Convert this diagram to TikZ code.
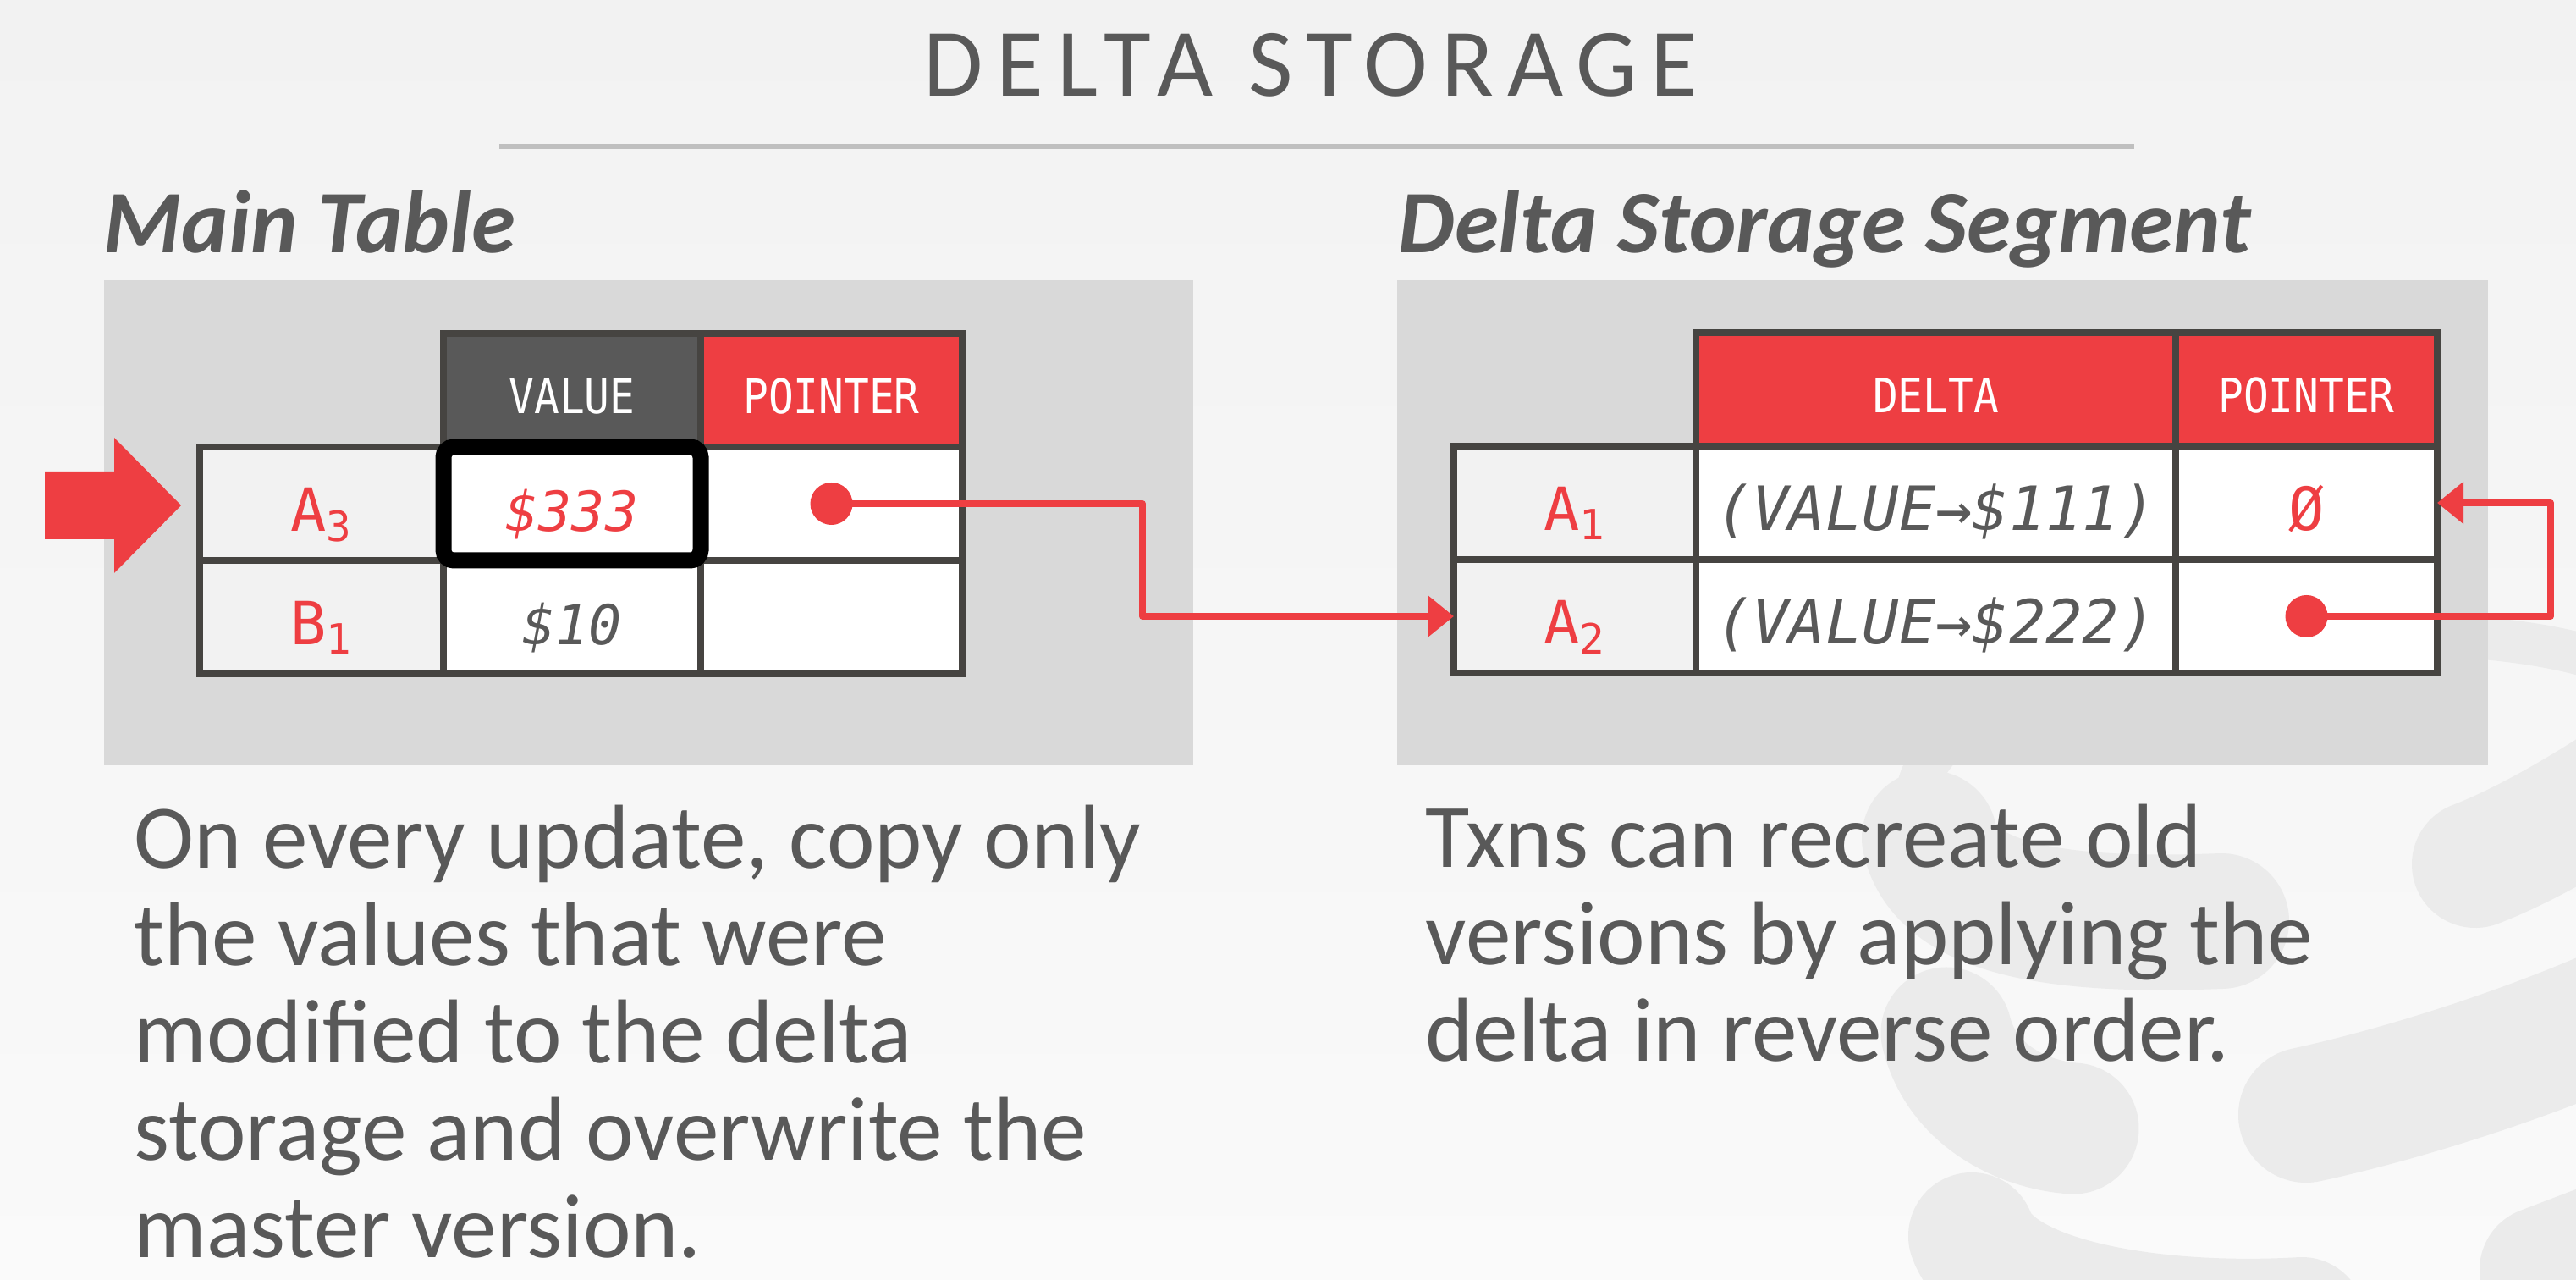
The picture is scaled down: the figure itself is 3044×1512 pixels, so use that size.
\documentclass[tikz,border=0pt]{standalone}
\usepackage{fontspec}
\setmainfont{Carlito}
\newfontfamily\cellfont{DejaVu Sans Mono}
\newfontfamily\hdrfont{DejaVu Sans Mono}[FakeStretch=0.88]
\newfontfamily\titlefont{Carlito}[LetterSpace=14]
\usetikzlibrary{arrows.meta,positioning}
\definecolor{slidegray}{HTML}{595959}
\definecolor{dbred}{HTML}{EE3E42}
\definecolor{panelgray}{HTML}{D9D9D9}
\definecolor{tblline}{HTML}{464441}
\definecolor{keyfill}{HTML}{F2F2F2}
\definecolor{rulegray}{HTML}{BFBFBF}
\definecolor{logogray}{HTML}{EBEBEB}
\definecolor{bgtop}{HTML}{F2F2F2}

\begin{document}
\begin{tikzpicture}[x=0.1mm, y=-0.1mm, >={Triangle[length=3.1mm,width=4.8mm]}]
  \tikzstyle{cell}=[draw=tblline, line width=0.8mm, inner sep=0pt, outer sep=0pt,
                    minimum height=1.34cm, text height=0.66cm, text depth=0pt]
  \tikzstyle{keycell}=[cell, fill=keyfill, text=dbred, minimum width=2.87cm,
                       font=\cellfont\fontsize{20}{22}\selectfont]
  \tikzstyle{valcell}=[cell, fill=white, text=slidegray,
                       font=\cellfont\fontsize{18.5}{20}\selectfont\itshape]
  \tikzstyle{hdrcell}=[cell, text=white, text height=0.56cm,
                       font=\hdrfont\fontsize{16}{18}\selectfont]
  \tikzstyle{panel}=[fill=panelgray, inner sep=0pt, minimum height=5.73cm, anchor=north west]
  \tikzstyle{heading}=[text=slidegray, inner sep=0pt, anchor=base west,
                       font=\fontsize{30}{32}\selectfont\bfseries\itshape]
  \tikzstyle{body}=[text=slidegray, inner sep=0pt, align=left, anchor=base west,
                    font=\fontsize{30.5}{32.7}\selectfont]
  \tikzstyle{dot}=[circle, fill=dbred, inner sep=0pt, minimum size=0.5cm]
  \tikzstyle{ptrline}=[draw=dbred, line width=0.8mm, line join=round]
  \tikzstyle{logo}=[draw=logogray, line cap=round]

  % ================= background + logo =================
  \useasboundingbox (0,0) rectangle (3044,1512);
  \shade[top color=bgtop, bottom color=white!98!black] (0,0) rectangle (3044,1512);
  \draw[logo, line width=0.5cm] (2265,960) .. controls (2240,760) and (2900,700) .. (3100,790);
  \draw[logo, line width=1.6cm] (2280,990) .. controls (2300,1080) and (2450,1095) .. (2625,1088);
  \draw[logo, line width=1.55cm] (2300,1220) .. controls (2320,1300) and (2400,1330) .. (2450,1333);
  \draw[logo, line width=1.5cm] (2330,1460) .. controls (2360,1540) and (2550,1570) .. (2720,1560);
  \draw[logo, line width=1.5cm] (2925,1021) .. controls (2980,1000) and (3050,960) .. (3110,920);
  \draw[logo, line width=1.6cm] (2725,1317) .. controls (2850,1290) and (3000,1240) .. (3110,1190);
  \draw[logo, line width=1.5cm] (3005,1500) -- (3110,1460);

  % ================= title =================
  \node[text=slidegray, anchor=base, inner sep=0pt,
        font=\titlefont\fontsize{32.5}{34}\selectfont] (title) at (1549,114) {DELTA STORAGE};
  \draw[rulegray, line width=0.6mm] (590,173) -- (2522,173);

  % ================= panels =================
  \node[panel, minimum width=12.87cm] (lpanel) at (122,330) {};
  \node[panel, minimum width=12.89cm] (rpanel) at (1650,330) {};
  \node[heading] (lhead) at (122,299) {Main Table};
  \node[heading] (rhead) at (1652,299) {Delta Storage Segment};

  % ================= main table =================
  \node[keycell, minimum width=2.88cm] (lkey1) at (380,595) {A\textsubscript{3}};
  \node[valcell, minimum width=3.04cm, right=0pt of lkey1, text=dbred] (lval1) {\$333};
  \node[valcell, minimum width=3.09cm, right=0pt of lval1] (lptr1) {};
  \node[keycell, minimum width=2.88cm, below=0pt of lkey1] (lkey2) {B\textsubscript{1}};
  \node[valcell, minimum width=3.04cm, right=0pt of lkey2] (lval2) {\$10};
  \node[valcell, minimum width=3.09cm, right=0pt of lval2] (lptr2) {};
  \node[hdrcell, fill=slidegray, minimum width=3.04cm, above=0pt of lval1] (lval0) {VALUE};
  \node[hdrcell, fill=dbred, minimum width=3.09cm, above=0pt of lptr1] (lptr0) {POINTER};
  % current version is boxed
  \draw[black, line width=1.9mm, rounded corners=1.2mm] (lval1.north west) rectangle (lval1.south east);
  \node[dot] (ldot) at (lptr1) {};
  \fill[dbred] (53,557) -- (135,557) -- (135,517) -- (214,597) -- (135,677)
               -- (135,637) -- (53,637) -- cycle;

  % ================= delta storage =================
  \node[keycell, minimum width=2.86cm] (rkey1) at (1861,594) {A\textsubscript{1}};
  \node[valcell, minimum width=5.67cm, right=0pt of rkey1, font=\cellfont\fontsize{20.5}{22}\selectfont\itshape] (rdel1) {(VALUE→\$111)};
  \node[valcell, minimum width=3.09cm, right=0pt of rdel1, text=dbred, font=\cellfont\fontsize{20}{22}\selectfont] (rptr1) {Ø};
  \node[keycell, minimum width=2.86cm, below=0pt of rkey1] (rkey2) {A\textsubscript{2}};
  \node[valcell, minimum width=5.67cm, right=0pt of rkey2, font=\cellfont\fontsize{20.5}{22}\selectfont\itshape] (rdel2) {(VALUE→\$222)};
  \node[valcell, minimum width=3.09cm, right=0pt of rdel2] (rptr2) {};
  \node[hdrcell, fill=dbred, minimum width=5.67cm, above=0pt of rdel1] (rdel0) {DELTA};
  \node[hdrcell, fill=dbred, minimum width=3.09cm, above=0pt of rptr1] (rptr0) {POINTER};
  \node[dot] (rdot) at (rptr2) {};

  % pointers
  \coordinate (lbend) at (1350,0);
  \coordinate (rbend) at (3014,0);
  \draw[ptrline, ->] (ldot.center) -- (ldot.center -| lbend) |- (rkey2.west);
  \draw[ptrline, ->] (rdot.center) -- (rdot.center -| rbend) |- (rptr1.east);

  % ================= text (base = last line) =================
  \node[body] (ltext) at (158,1485) {On every update, copy only\\the values that were\\modified to the delta\\storage and overwrite the\\master version.};
  \node[body] (rtext) at (1684,1254) {Txns can recreate old\\versions by applying the\\delta in reverse order.};
\end{tikzpicture}
\end{document}
